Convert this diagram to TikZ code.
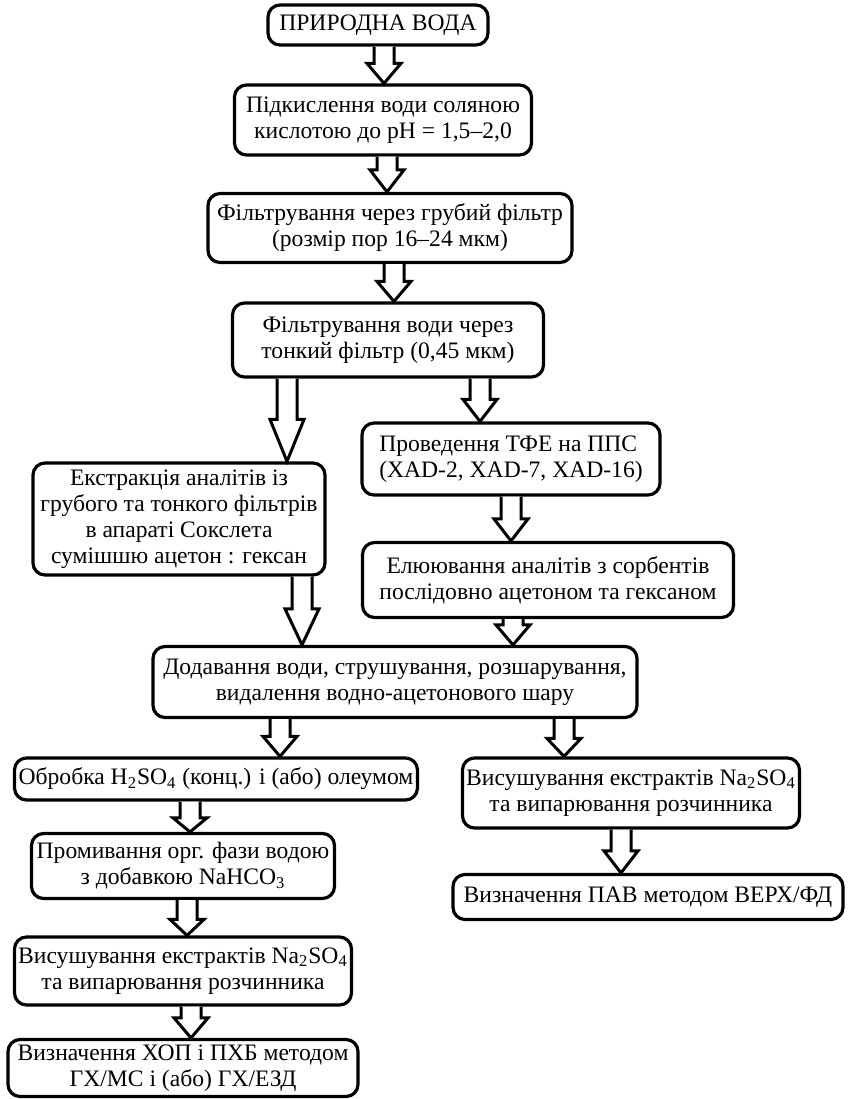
\documentclass[tikz,border=0pt]{standalone}
\usepackage{fontspec}
\setmainfont{Liberation Serif}
\usetikzlibrary{calc}

\tikzset{
  stage/.style={draw, line width=1.6pt, rounded corners=6pt, align=center,
    inner sep=0pt, font=\fontsize{11.8}{13}\selectfont},
  blockarrow/.style={draw, line width=1.5pt, fill=white, line join=miter}
}

% hollow block arrow: x, from node, to node, head length
\newcommand{\blockarr}[4]{%
  \draw[blockarrow] let \p1 = (#1,0 |- #2.south), \p2 = (#1,0 |- #3.north) in
    (\x1-5pt,\y1) -- (\x1-5pt,\y2+#4) -- (\x1-8.5pt,\y2+#4) -- (\x1,\y2)
    -- (\x1+8.5pt,\y2+#4) -- (\x1+5pt,\y2+#4) -- (\x1+5pt,\y1);
}

\begin{document}
\begin{tikzpicture}[x=0.5pt, y=-0.5pt]
\useasboundingbox (0, 0) rectangle (850, 1099);

\node[stage, minimum width=110pt,   minimum height=20pt]   (water)      at (378,   25) {ПРИРОДНА ВОДА};
\node[stage, minimum width=148.5pt, minimum height=35pt]   (acidify)    at (383,  120) {Підкислення води соляною\\кислотою до pH = 1,5--2,0};
\node[stage, minimum width=182pt,   minimum height=34.5pt] (coarsefilt) at (390,  228) {Фільтрування через грубий фільтр\\(розмір пор 16--24 мкм)};
\node[stage, minimum width=155.5pt, minimum height=37pt]   (finefilt)   at (388,  340) {Фільтрування води через\\тонкий фільтр (0,45 мкм)};

\node[stage, minimum width=146pt,   minimum height=56pt]   (soxhlet)    at (179,  519) {Екстракція аналітів із\\грубого та тонкого фільтрів\\в апараті Сокслета\\сумішшю ацетон : гексан};
\node[stage, minimum width=149pt,   minimum height=36pt, align=left] (spe) at (511, 459) {Проведення ТФЕ на ППС\\(XAD-2, XAD-7, XAD-16)};
\node[stage, minimum width=185.5pt, minimum height=37.5pt] (elute)      at (548,  580) {Елюювання аналітів з сорбентів\\послідовно ацетоном та гексаном};

\node[stage, minimum width=242pt,   minimum height=35.5pt] (addwater)   at (395,  682) {Додавання води, струшування, розшарування,\\видалення водно-ацетонового шару};

\node[stage, minimum width=201.5pt, minimum height=21pt]   (sulfuric)   at (216,  779) {Обробка H\textsubscript{2}SO\textsubscript{4} (конц.) і (або) олеумом};
\node[stage, minimum width=151.5pt, minimum height=32.5pt] (rinse)      at (183,  866) {Промивання орг. фази водою\\з добавкою NaHCO\textsubscript{3}};
\node[stage, minimum width=168.5pt, minimum height=34pt]   (dryL)       at (183,  971) {Висушування екстрактів Na\textsubscript{2}SO\textsubscript{4}\\та випарювання розчинника};
\node[stage, minimum width=175pt,   minimum height=28.5pt] (gcms)       at (183, 1068) {Визначення ХОП і ПХБ методом\\ГХ/МС і (або) ГХ/ЕЗД};

\node[stage, minimum width=168.5pt, minimum height=35pt]   (dryR)       at (631,  793) {Висушування екстрактів Na\textsubscript{2}SO\textsubscript{4}\\та випарювання розчинника};
\node[stage, minimum width=195pt,   minimum height=22.5pt] (hplc)       at (648,  897) {Визначення ПАВ методом ВЕРХ/ФД};

\blockarr{384}{water}{acidify}{10pt}
\blockarr{387}{acidify}{coarsefilt}{11pt}
\blockarr{394}{coarsefilt}{finefilt}{10pt}
\blockarr{287}{finefilt}{soxhlet}{21pt}
\blockarr{480}{finefilt}{spe}{11pt}
\blockarr{511}{spe}{elute}{11pt}
\blockarr{302}{soxhlet}{addwater}{18pt}
\blockarr{513}{elute}{addwater}{10pt}
\blockarr{280}{addwater}{sulfuric}{10pt}
\blockarr{564}{addwater}{dryR}{9pt}
\blockarr{190}{sulfuric}{rinse}{7pt}
\blockarr{187}{rinse}{dryL}{8pt}
\blockarr{191}{dryL}{gcms}{10pt}
\blockarr{621}{dryR}{hplc}{11pt}

\end{tikzpicture}
\end{document}
